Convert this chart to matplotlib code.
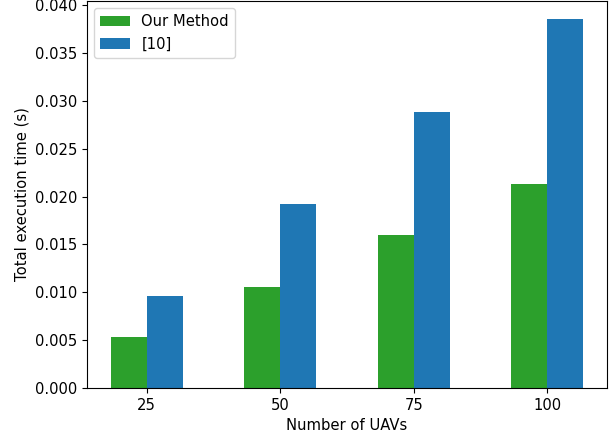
import numpy as np
import matplotlib
matplotlib.use("Agg")
import matplotlib.pyplot as plt

plt.rcParams["font.size"] = 10.6

# Execution time per number of UAVs
uav_counts = ["25", "50", "75", "100"]
our_method = [0.0053, 0.0106, 0.0160, 0.0213]
ref_10 = [0.0096, 0.0192, 0.0288, 0.0385]

x = np.arange(len(uav_counts))
width = 0.27

fig, ax = plt.subplots(figsize=(6.11, 4.38), dpi=100)
fig.subplots_adjust(left=0.1424, right=0.9935, top=0.9977, bottom=0.1142)

ax.bar(x, our_method, width, color="#2ca02c", label="Our Method")
ax.bar(x + width, ref_10, width, color="#1f77b4", label="[10]")

ax.set_xticks(x + width / 2)
ax.set_xticklabels(uav_counts)
ax.set_xlabel("Number of UAVs")
ax.set_ylabel("Total execution time (s)")
ax.legend(loc="upper left")

fig.savefig("out.png", dpi=100)
